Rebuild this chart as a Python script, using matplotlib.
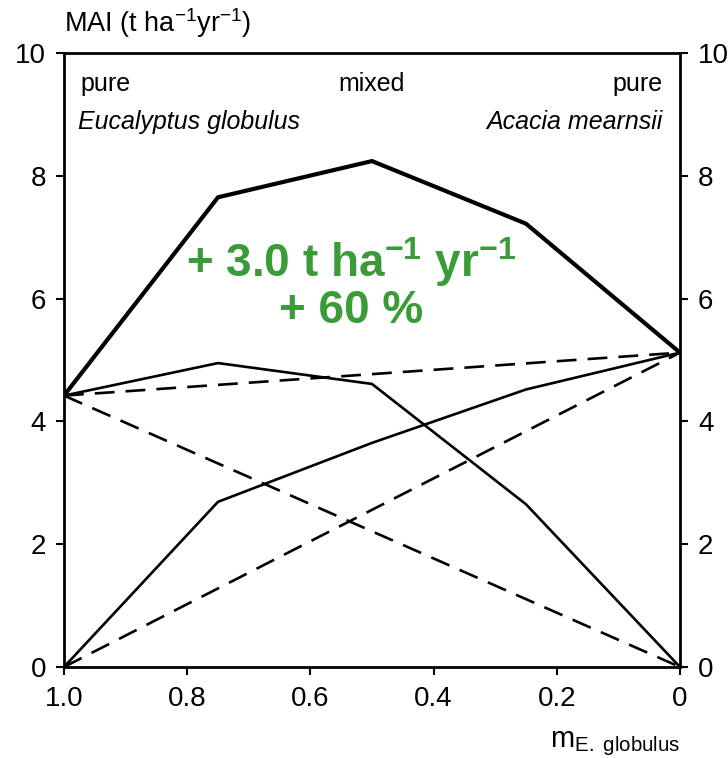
import matplotlib.pyplot as plt

plt.rcParams['font.family'] = 'Liberation Sans'
plt.rcParams['mathtext.fontset'] = 'custom'
plt.rcParams['mathtext.rm'] = 'Liberation Sans'
plt.rcParams['mathtext.it'] = 'Liberation Sans:italic'
plt.rcParams['mathtext.bf'] = 'Liberation Sans:bold'

# proportion of E. globulus in the stand
m_glob = [1.0, 0.75, 0.5, 0.25, 0.0]
# mean annual increment (t/ha/yr)
mai_total = [4.42, 7.65, 8.24, 7.22, 5.12]
mai_euc = [4.42, 4.95, 4.61, 2.65, 0.0]
mai_acacia = [0.0, 2.69, 3.65, 4.52, 5.12]

# expected values from pure stands (straight lines between the ends)
pure_x = [1.0, 0.0]
exp_total = [mai_total[0], mai_total[-1]]
exp_euc = [mai_euc[0], mai_euc[-1]]
exp_acacia = [mai_acacia[0], mai_acacia[-1]]

yticks = [0, 2, 4, 6, 8, 10]
xticks = [1.0, 0.8, 0.6, 0.4, 0.2, 0.0]
xticklabels = ['1.0', '0.8', '0.6', '0.4', '0.2', '0']

fig = plt.figure(figsize=(7.28, 7.58), dpi=100)
ax = fig.add_axes([64 / 728, 1 - 667 / 758, 616 / 728, 614 / 758])

ax.plot(m_glob, mai_total, color='black', lw=3.0, solid_joinstyle='miter')
ax.plot(m_glob, mai_euc, color='black', lw=1.9)
ax.plot(m_glob, mai_acacia, color='black', lw=1.9)
for ys in (exp_total, exp_euc, exp_acacia):
    ax.plot(pure_x, ys, color='black', lw=1.9, dashes=(7.5, 4.2))

ax.set_xlim(1.0, 0.0)
ax.set_ylim(0, 10)
ax.set_xticks(xticks)
ax.set_xticklabels(xticklabels)
ax.set_yticks(yticks)
ax.set_yticklabels([str(t) for t in yticks])
ax.tick_params(axis='both', direction='out', length=6, width=1.5,
               labelsize=20, colors='black')
ax.tick_params(axis='y', left=True, right=True, labelleft=True,
               labelright=True, pad=7)
ax.tick_params(axis='x', pad=8)
for sp in ax.spines.values():
    sp.set_linewidth(2)

ax.text(0.0, 1.035, r'MAI (t ha$^{-1}$yr$^{-1}$)', transform=ax.transAxes,
        fontsize=19.5, ha='left', va='baseline')
ax.set_xlabel(r'm$_{\mathrm{E.\ globulus}}$', fontsize=21, loc='right',
              labelpad=12)

ax.text(0.026, 0.938, 'pure', transform=ax.transAxes, fontsize=18,
        ha='left', va='baseline')
ax.text(0.5, 0.938, 'mixed', transform=ax.transAxes, fontsize=18,
        ha='center', va='baseline')
ax.text(0.971, 0.938, 'pure', transform=ax.transAxes, fontsize=18,
        ha='right', va='baseline')
ax.text(0.022, 0.876, 'Eucalyptus globulus', transform=ax.transAxes,
        fontsize=18, style='italic', ha='left', va='baseline')
ax.text(0.971, 0.876, 'Acacia mearnsii', transform=ax.transAxes,
        fontsize=18, style='italic', ha='right', va='baseline')

green = '#3a9b38'
ax.text(0.466, 0.635, r'+ 3.0 t ha$^{\mathbf{-1}}$ yr$^{\mathbf{-1}}$',
        transform=ax.transAxes, fontsize=33, fontweight='bold',
        color=green, ha='center', va='baseline')
ax.text(0.466, 0.560, '+ 60 %', transform=ax.transAxes, fontsize=33,
        fontweight='bold', color=green, ha='center', va='baseline')

fig.savefig('out.png', dpi=100)
